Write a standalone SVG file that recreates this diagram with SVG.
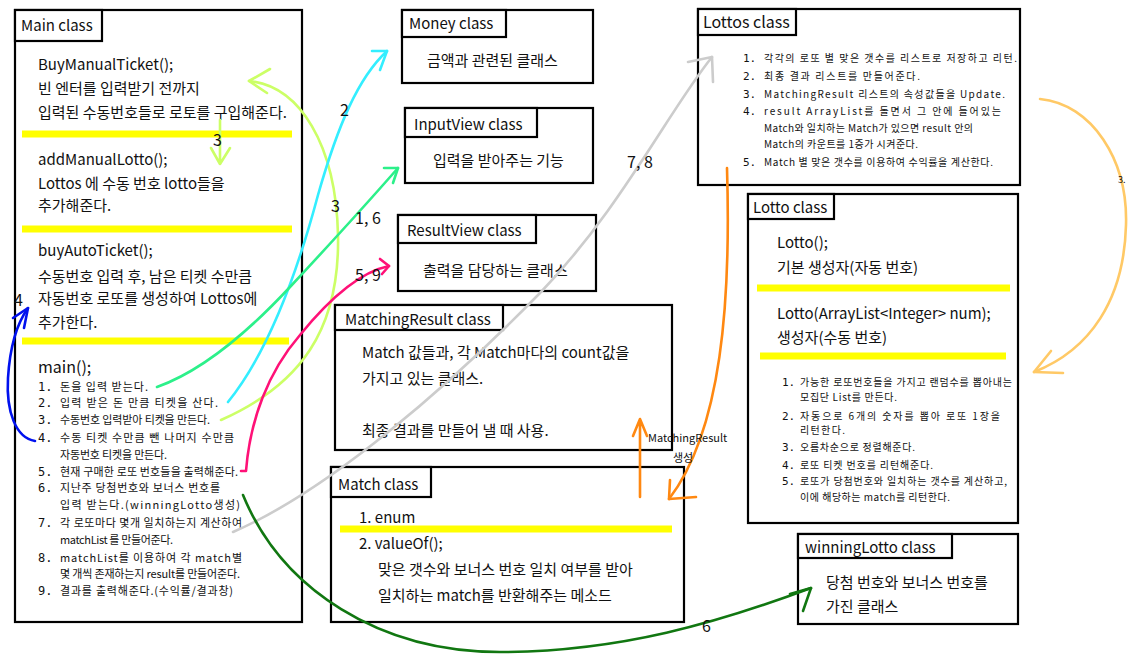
<svg xmlns="http://www.w3.org/2000/svg" width="1139" height="667" viewBox="0 0 1139 667">
<style>
text{font-family:"Noto Sans CJK KR","Noto Sans",sans-serif;fill:#111}
.box{fill:#fff;stroke:#000;stroke-width:2.2}
.tb{fill:#fff;stroke:#000;stroke-width:2.2}
.t{font-size:15px}
.m{font-size:15px}
.s{font-size:11px}
.xs{font-size:10px}
.n{font-family:"DejaVu Sans Mono",monospace;font-size:12px}
.nx{font-family:"DejaVu Sans Mono",monospace;font-size:11px}
.hl{stroke:#ffff00;stroke-width:7;fill:none}
.c{fill:none;stroke-width:2.6;stroke-linecap:round;stroke-linejoin:round}
.lbl{font-size:16px}
</style>
<rect width="1139" height="667" fill="#fff"/>

<g id="main">
<rect class="box" x="15" y="10" width="287" height="612"/>
<rect class="tb" x="15" y="10" width="87" height="31"/>
<text class="t" x="21" y="31">Main class</text>
<text class="m" x="38" y="70">BuyManualTicket();</text>
<text class="m" x="38" y="94">빈 엔터를 입력받기 전까지</text>
<text class="m" x="38" y="118">입력된 수동번호들로 로토를 구입해준다.</text>
<line class="hl" x1="22" y1="134" x2="292" y2="134"/>
<text class="m" x="38" y="165">addManualLotto();</text>
<text class="m" x="38" y="189">Lottos 에 수동 번호 lotto들을</text>
<text class="m" x="38" y="211">추가해준다.</text>
<line class="hl" x1="22" y1="229" x2="292" y2="229"/>
<text class="m" x="38" y="256">buyAutoTicket();</text>
<text class="m" x="38" y="282">수동번호 입력 후, 남은 티켓 수만큼</text>
<text class="m" x="38" y="304">자동번호 로또를 생성하여 Lottos에</text>
<text class="m" x="38" y="328">추가한다.</text>
<line class="hl" x1="22" y1="341" x2="289" y2="341"/>
<text class="m" x="38" y="373" style="font-size:16px">main();</text>
<g class="s">
<text class="n" x="38" y="391">1.</text><text x="60" y="391" textLength="88" lengthAdjust="spacing">돈을 입력 받는다.</text>
<text class="n" x="38" y="407">2.</text><text x="60" y="407" textLength="158" lengthAdjust="spacing">입력 받은 돈 만큼 티켓을 산다.</text>
<text class="n" x="38" y="424">3.</text><text x="60" y="424" textLength="150" lengthAdjust="spacing">수동번호 입력받아 티켓을 만든다.</text>
<text class="n" x="38" y="442">4.</text><text x="60" y="442" textLength="174" lengthAdjust="spacing">수동 티켓 수만큼 뺀 나머지 수만큼</text>
<text x="60" y="459" textLength="107" lengthAdjust="spacing">자동번호 티켓을 만든다.</text>
<text class="n" x="38" y="476">5.</text><text x="60" y="476" textLength="178" lengthAdjust="spacing">현재 구매한 로또 번호들을 출력해준다.</text>
<text class="n" x="38" y="492">6.</text><text x="60" y="492" textLength="160" lengthAdjust="spacing">지난주 당첨번호와 보너스 번호를</text>
<text x="60" y="509" textLength="180" lengthAdjust="spacing">입력 받는다.(winningLotto생성)</text>
<text class="n" x="38" y="527">7.</text><text x="60" y="527" textLength="182" lengthAdjust="spacing">각 로또마다 몇개 일치하는지 계산하여</text>
<text x="60" y="544" textLength="113" lengthAdjust="spacing">matchList 를 만들어준다.</text>
<text class="n" x="38" y="562">8.</text><text x="60" y="562" textLength="182" lengthAdjust="spacing">matchList를 이용하여 각 match별</text>
<text x="60" y="578" textLength="180" lengthAdjust="spacing">몇 개씩 존재하는지 result를 만들어준다.</text>
<text class="n" x="38" y="595">9.</text><text x="60" y="595" textLength="173" lengthAdjust="spacing">결과를 출력해준다.(수익률/결과창)</text>
</g>
</g>

<g id="money">
<rect class="box" x="402" y="10" width="191" height="73"/>
<rect class="tb" x="402" y="10" width="104" height="27"/>
<text class="t" x="409" y="29">Money class</text>
<text class="m" x="427" y="66">금액과 관련된 클래스</text>
</g>

<g id="inputview">
<rect class="box" x="405" y="108" width="188" height="75"/>
<rect class="tb" x="405" y="108" width="132" height="29"/>
<text class="t" x="414" y="130">InputView class</text>
<text class="m" x="433" y="166">입력을 받아주는 기능</text>
</g>

<g id="resultview">
<rect class="box" x="398" y="215" width="198" height="76"/>
<rect class="tb" x="398" y="215" width="138" height="28"/>
<text class="t" x="407" y="236">ResultView class</text>
<text class="m" x="423" y="276">출력을 담당하는 클래스</text>
</g>

<g id="matchingresult">
<rect class="box" x="335" y="305" width="337" height="145"/>
<rect class="tb" x="335" y="305" width="168" height="25"/>
<text class="t" x="345" y="325">MatchingResult class</text>
<text class="m" x="362" y="358">Match 값들과, 각 Match마다의 count값을</text>
<text class="m" x="362" y="384">가지고 있는 클래스.</text>
<text class="m" x="362" y="436">최종 결과를 만들어 낼 때 사용.</text>
</g>

<g id="match">
<rect class="box" x="331" y="467" width="353" height="155"/>
<rect class="tb" x="331" y="467" width="100" height="30"/>
<text class="t" x="338" y="490">Match class</text>
<text class="m" x="359" y="523">1. enum</text>
<line class="hl" x1="340" y1="529" x2="672" y2="529"/>
<text class="m" x="359" y="549">2. valueOf();</text>
<text class="m" x="378" y="575">맞은 갯수와 보너스 번호 일치 여부를 받아</text>
<text class="m" x="378" y="601">일치하는 match를 반환해주는 메소드</text>
</g>

<g id="lottos">
<rect class="box" x="698" y="9" width="322" height="176"/>
<rect class="tb" x="698" y="9" width="98" height="26"/>
<text class="t" x="703" y="28" style="font-size:16px">Lottos class</text>
<g class="xs">
<text class="nx" x="743" y="62">1.</text><text x="764" y="62" textLength="253" lengthAdjust="spacing">각각의 로또 별 맞은 갯수를 리스트로 저장하고 리턴.</text>
<text class="nx" x="743" y="80">2.</text><text x="764" y="80" textLength="156" lengthAdjust="spacing">최종 결과 리스트를 만들어준다.</text>
<text class="nx" x="743" y="98">3.</text><text x="764" y="98" textLength="241" lengthAdjust="spacing">MatchingResult 리스트의 속성값들을 Update.</text>
<text class="nx" x="743" y="115">4.</text><text x="764" y="115" textLength="237" lengthAdjust="spacing">result ArrayList를 돌면서 그 안에 들어있는</text>
<text x="764" y="132" textLength="209" lengthAdjust="spacing">Match와 일치하는 Match가 있으면 result 안의</text>
<text x="764" y="148" textLength="154" lengthAdjust="spacing">Match의 카운트를 1증가 시켜준다.</text>
<text class="nx" x="743" y="166">5.</text><text x="764" y="166" textLength="229" lengthAdjust="spacing">Match 별 맞은 갯수를 이용하여 수익률을 계산한다.</text>
</g>
</g>

<g id="lotto">
<rect class="box" x="748" y="194" width="270" height="329"/>
<rect class="tb" x="748" y="194" width="86" height="25"/>
<text class="t" x="753" y="213">Lotto class</text>
<text class="m" x="777" y="248">Lotto();</text>
<text class="m" x="777" y="273">기본 생성자(자동 번호)</text>
<line class="hl" x1="757" y1="288" x2="1010" y2="288"/>
<text class="m" x="777" y="319">Lotto(ArrayList&lt;Integer&gt; num);</text>
<text class="m" x="777" y="343">생성자(수동 번호)</text>
<line class="hl" x1="760" y1="356" x2="1006" y2="356"/>
<g class="xs">
<text class="nx" x="782" y="386">1.</text><text x="800" y="386" textLength="212" lengthAdjust="spacing">가능한 로또번호들을 가지고 랜덤수를 뽑아내는</text>
<text x="800" y="401" textLength="97" lengthAdjust="spacing">모집단 List를 만든다.</text>
<text class="nx" x="782" y="420">2.</text><text x="800" y="420" textLength="200" lengthAdjust="spacing">자동으로 6개의 숫자를 뽑아 로또 1장을</text>
<text x="800" y="434" textLength="45" lengthAdjust="spacing">리턴한다.</text>
<text class="nx" x="782" y="451">3.</text><text x="800" y="451" textLength="115" lengthAdjust="spacing">오름차순으로 정렬해준다.</text>
<text class="nx" x="782" y="469">4.</text><text x="800" y="469" textLength="133" lengthAdjust="spacing">로또 티켓 번호를 리턴해준다.</text>
<text class="nx" x="782" y="485">5.</text><text x="800" y="485" textLength="207" lengthAdjust="spacing">로또가 당첨번호와 일치하는 갯수를 계산하고,</text>
<text x="800" y="501" textLength="150" lengthAdjust="spacing">이에 해당하는 match를 리턴한다.</text>
</g>
</g>

<g id="winninglotto">
<rect class="box" x="798" y="534" width="220" height="90"/>
<rect class="tb" x="798" y="534" width="154" height="24"/>
<text class="t" x="805" y="553">winningLotto class</text>
<text class="m" x="826" y="588">당첨 번호와 보너스 번호를</text>
<text class="m" x="826" y="612">가진 클래스</text>
</g>

<g id="connectors">
<g stroke="#ccff66">
<path class="c" d="M221,420 C300,385 340,330 338,235 C336,145 300,86 249,81"/>
<path class="c" d="M270,69 L249,81 L267,93"/>
<path class="c" d="M220,120 L220,164 M211,148 L220,164 L230,148"/>
</g>
<g stroke="#33eeff">
<path class="c" d="M228,402 C270,350 298,270 318,195 C338,125 358,78 387,51"/>
<path class="c" d="M372,51 L387,51 L380,70"/>
</g>
<g stroke="#2cf08a">
<path class="c" d="M157,387 C205,370 250,330 290,287 C330,244 370,200 398,168"/>
<path class="c" d="M384,168 L398,168 L393,183"/>
</g>
<g stroke="#ff1177">
<path class="c" d="M241,471 L246,471 C250,420 268,372 300,335 C330,298 360,272 389,266"/>
<path class="c" d="M380,259 L389,266 L382,274"/>
</g>
<g stroke="#0011ee">
<path class="c" d="M35,441 C16,438 6,412 8,378 C10,345 18,322 28,308"/>
<path class="c" d="M13,318 L28,308 L24,328"/>
</g>
<g stroke="#cccccc">
<path class="c" d="M233,532 C330,490 450,385 540,293 C620,210 668,112 712,57"/>
<path class="c" d="M688,62 L712,57 L713,82"/>
</g>
<g stroke="#117711">
<path class="c" d="M243,495 C282,590 380,652 500,652 C620,652 720,622 811,588"/>
<path class="c" d="M790,594 L811,588 L803,611"/>
</g>
<g stroke="#ff8811">
<path class="c" d="M727,168 C731,300 722,430 669,499"/>
<path class="c" d="M670,480 L669,499 L696,497"/>
<path class="c" d="M640,497 L640,419 M633,436 L640,419 L647,436"/>
</g>
<g stroke="#ffc966">
<path class="c" d="M1040,99 C1092,104 1128,160 1126,225 C1124,300 1090,350 1034,372"/>
<path class="c" d="M1051,351 L1034,372 L1063,373"/>
</g>
<text class="lbl" x="213" y="146">3</text>
<text class="lbl" x="340" y="116">2</text>
<text class="lbl" x="331" y="212">3</text>
<text class="lbl" x="355" y="224">1, 6</text>
<text class="lbl" x="355" y="281">5, 9</text>
<text class="lbl" x="14" y="306">4</text>
<text class="lbl" x="627" y="168">7, 8</text>
<text class="lbl" x="702" y="632">6</text>
<text x="648" y="442" style="font-size:11px">MatchingResult</text>
<text x="673" y="462" style="font-size:11px">생성</text>
<text x="1118" y="183" style="font-size:9px">3.</text>
</g>
</svg>
